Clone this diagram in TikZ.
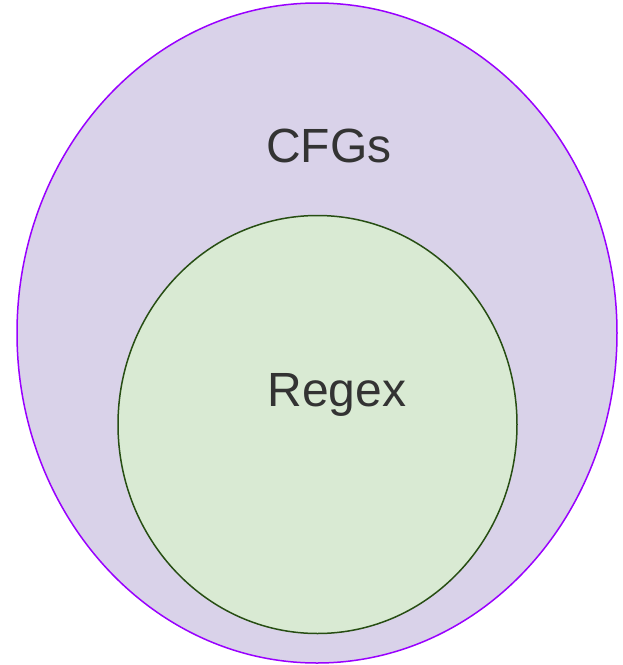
\documentclass[tikz,border=0pt]{standalone}
\usepackage{fontspec}
\setmainfont{Liberation Sans}
\begin{document}
\begin{tikzpicture}[x=1pt,y=-1pt,
  outerset/.style={draw=setpurple,fill=setlilac,line width=1.5pt},
  innerset/.style={draw=setgreen,fill=setmint,line width=1.5pt},
  setlabel/.style={anchor=base,text=labelgrey,font=\fontsize{48}{56}\selectfont,inner sep=0pt}]
\definecolor{setpurple}{HTML}{9900FF}
\definecolor{setlilac}{HTML}{D9D2E9}
\definecolor{setgreen}{HTML}{274E13}
\definecolor{setmint}{HTML}{D9EAD3}
\definecolor{labelgrey}{HTML}{333333}
\useasboundingbox (0,0) rectangle (623,665);
% context-free grammars
\draw[outerset] (317,333) ellipse [x radius=300, y radius=330];
% regular expressions, nested inside
\draw[innerset] (317.5,424.5) ellipse [x radius=199.5, y radius=209];
\node[setlabel] (cfg) at (329,162) {CFGs};
\node[setlabel] (regex) at (337,406) {Regex};
\end{tikzpicture}
\end{document}
